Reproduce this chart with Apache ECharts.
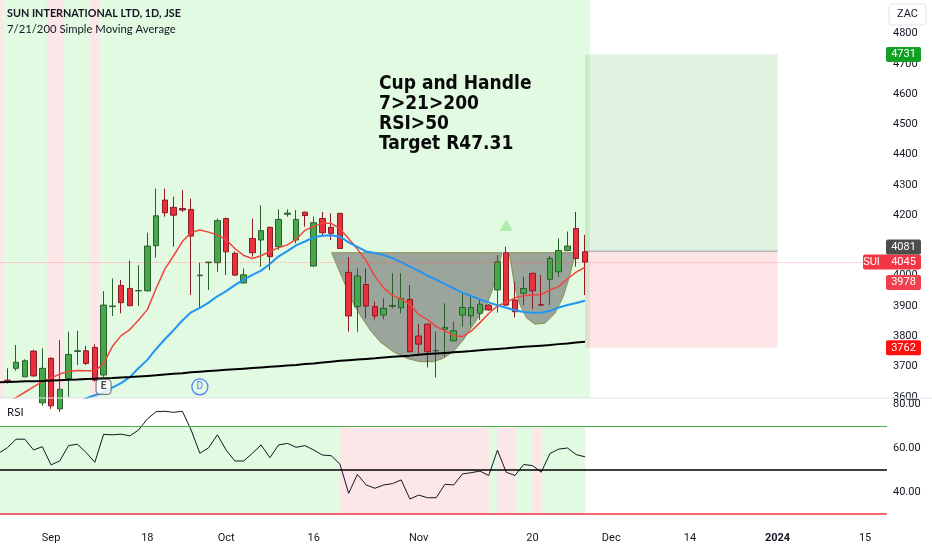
<!DOCTYPE html>
<html><head><meta charset="utf-8">
<script src="https://cdn.jsdelivr.net/npm/echarts@6/dist/echarts.min.js"></script>
<style>html,body{margin:0;padding:0;background:#fff}#c{width:932px;height:550px}</style>
</head><body><div id="c"></div>
<script>
// ---------- DATA ----------
const dates = [
 '2023-08-24','2023-08-25','2023-08-28','2023-08-29','2023-08-30','2023-08-31',
 '2023-09-01','2023-09-04','2023-09-05','2023-09-06','2023-09-07','2023-09-08',
 '2023-09-11','2023-09-12','2023-09-13','2023-09-14','2023-09-15',
 '2023-09-18','2023-09-19','2023-09-20','2023-09-21','2023-09-22',
 '2023-09-26','2023-09-27','2023-09-28','2023-09-29',
 '2023-10-02','2023-10-03','2023-10-04','2023-10-05','2023-10-06',
 '2023-10-09','2023-10-10','2023-10-11','2023-10-12','2023-10-13',
 '2023-10-16','2023-10-17','2023-10-18','2023-10-19','2023-10-20',
 '2023-10-23','2023-10-24','2023-10-25','2023-10-26','2023-10-27',
 '2023-10-30','2023-10-31','2023-11-01','2023-11-02','2023-11-03',
 '2023-11-06','2023-11-07','2023-11-08','2023-11-09','2023-11-10',
 '2023-11-13','2023-11-14','2023-11-15','2023-11-16','2023-11-17',
 '2023-11-20','2023-11-21','2023-11-22','2023-11-23','2023-11-24',
 '2023-11-27','2023-11-28','2023-11-29','2023-11-30','2023-12-01',
 '2023-12-04','2023-12-05','2023-12-06','2023-12-07','2023-12-08',
 '2023-12-11','2023-12-12','2023-12-13','2023-12-14','2023-12-15',
 '2023-12-18','2023-12-19','2023-12-20','2023-12-21','2023-12-22',
 '2023-12-27','2023-12-28','2023-12-29',
 '2024-01-01','2024-01-02','2024-01-03','2024-01-04','2024-01-05',
 '2024-01-08','2024-01-09','2024-01-10','2024-01-11','2024-01-12',
 '2024-01-15','2024-01-16','2024-01-17'
];
// [open, close, low, high]
const ohlc = [
 '-',
 [3655,3652,3644,3694],[3694,3714,3686,3771],[3666,3719,3665,3724],[3751,3669,3666,3755],
 [3580,3694,3570,3760],[3727,3570,3560,3730],[3560,3625,3550,3788],[3661,3740,3600,3815],
 [3750,3752,3705,3818],[3752,3710,3705,3768],[3763,3655,3650,3774],[3672,3903,3666,3949],
 [3898,3900,3867,3991],[3968,3911,3876,3986],[3958,3901,3899,4050],[3950,3951,3900,4035],
 [3950,4098,3948,4142],[4099,4198,4060,4288],[4250,4208,4195,4288],[4226,4200,4096,4261],
 [4222,4217,4211,4283],[4219,4131,3936,4255],[4000,4002,3894,4043],[4043,4045,3953,4046],
 [4043,4182,4013,4189],[4189,4079,4002,4192],[4074,4002,3999,4080],[3976,4003,3975,4024],
 [4123,4076,4063,4189],[4118,4149,4030,4233],[4160,4063,4019,4162],[4096,4186,4085,4219],
 [4203,4207,4195,4219],[4118,4186,4107,4217],[4210,4199,4162,4212],[4032,4175,4030,4195],
 [4189,4142,4134,4211],[4160,4140,4118,4206],[4206,4090,4088,4208],[4011,3867,3815,4061],
 [3898,3999,3815,4024],[3971,3900,3859,4024],[3898,3867,3856,3914],[3870,3892,3856,3925],
 [3899,3902,3892,4008],[3894,3925,3876,4008],[3922,3749,3747,3969],[3801,3774,3743,3840],
 [3840,3749,3697,3842],[3752,3753,3664,3815],[3823,3829,3733,3909],[3785,3818,3783,3848],
 [3870,3895,3832,3942],[3867,3895,3832,3933],[3876,3906,3854,3925],[3903,3887,3884,3906],
 [3953,4046,3878,4068],[4076,3903,3900,4096],[3920,3881,3862,3980],[3942,3958,3903,3997],
 [4008,3950,3890,4010],[3904,3903,3900,4002],[3988,4057,3903,4065],[4013,4083,3997,4123],
 [4083,4098,4081,4146],[4156,4057,4030,4211],[4079,4045,3936,4135]
];
const sma7 = [3565,3580,3597,3615,3633,3650,3662,3675,3684,3687,3686,3685,3710,3766,3802,3822,
 3854,3888,3958,4022,4066,4113,4143,4151,4144,4135,4119,4090,4067,4057,4066,4080,4093,4102,4120,
 4150,4163,4173,4173,4156,4122,4088,4050,3998,3960,3935,3923,3905,3872,3855,3832,3818,3802,3799,
 3817,3845,3875,3900,3912,3927,3934,3936,3938,3953,3964,3990,4012,4028];
const sma21 = [3465,3475,3486,3498,3510,3522,3535,3548,3562,3578,3595,3605,3615,3630,3645,3665,
 3695,3722,3758,3790,3820,3852,3879,3894,3911,3932,3949,3969,3987,4003,4017,4039,4064,4081,4100,
 4113,4127,4132,4134,4129,4110,4095,4080,4075,4068,4058,4045,4030,4016,4000,3987,3972,3958,3944,
 3933,3922,3912,3902,3894,3886,3880,3878,3878,3884,3895,3903,3910,3917];
const sma200 = [3648,3649,3650,3651,3651,3652,3654,3655,3656,3657,3659,3660,3661,3662,3664,3665,
 3667,3669,3671,3674,3676,3678,3681,3683,3685,3687,3689,3691,3693,3695,3697,3699,3701,3703,3705,
 3708,3710,3713,3716,3719,3721,3723,3725,3727,3730,3732,3734,3736,3739,3741,3743,3745,3747,3749,
 3751,3754,3756,3758,3760,3763,3765,3767,3769,3771,3774,3776,3779,3782];
const rsi = [57.6,60.1,64,64,59.1,60.6,52.3,54.2,61.1,61.7,58,53.5,66.2,66,66.3,65.5,68.2,73.2,
 76.5,76.7,76.2,76.7,68.2,57.6,60.1,66,59.1,54.1,54.1,57.6,61.4,55.6,61.4,62.1,60.3,61.1,59.1,
 56.8,56.5,52.7,39.4,48,43.2,41.7,43.2,43.8,45.5,36.8,38.6,37.4,37.4,43.5,43.2,48.2,48.8,49.5,
 47.5,59,49,47.5,52.5,52,49,57.5,59.5,60,57,56];
const pinkBgDates = ['2023-08-24','2023-09-01','2023-09-04','2023-09-08'];
const lastBarDate = '2023-11-28';
const tickDates = ['2023-09-01','2023-09-18','2023-10-02','2023-10-16','2023-11-01','2023-11-20',
 '2023-12-01','2023-12-14','2024-01-01','2024-01-15'];
const tickLabels = ['Sep','18','Oct','16','Nov','20','Dec','14','2024','15'];
const priceTicks = [3600,3700,3800,3900,4000,4100,4200,4300,4400,4500,4600,4700,4800];
const rsiTicks = [40,60,80];
const rsiLevels = [70,50,30];
// cup & handle outline: [category position, price]
const cupPoints = [[38.06,4076],[38.63,4036],[39.2,3997],[39.78,3959],[40.53,3909],[41.29,3871],
 [42.44,3821],[43.58,3782],[45.1,3749],[46.63,3727],[48.15,3716],[49.67,3716],[50.81,3727],
 [51.95,3749],[53.1,3788],[54.24,3838],[55.0,3871],[55.57,3890],[56.34,3947],[56.91,4003],
 [57.37,4058],[57.51,4076]];
const handlePoints = [[58.35,4076],[58.63,4025],[59.0,3959],[59.57,3904],[60.34,3860],[61.29,3840],
 [62.43,3843],[63.57,3876],[64.52,3931],[65.29,4003],[65.75,4058],[65.98,4076]];
const position = {from:'2023-11-28', to:'2024-01-01', entry:4081, target:4731, stop:3762};
const lastPrice = 4045;
const markers = [{date:'2023-09-11', price:3633, text:'E'}, {date:'2023-09-27', price:3633, text:'D'}];
const signalUp = {date:'2023-11-15', price:4168};
const badges = [
 {value:4731, text:'4731', color:'#12a024'},
 {value:4081, text:'4081', color:'#4d4d4d'},
 {value:4045, text:'4045', color:'#f23645', prefix:'SUI'},
 {value:3978, text:'3978', color:'#f0404f'},
 {value:3762, text:'3762', color:'#ff1010'}
];
const noteLines = ['Cup and Handle','7>21>200','RSI>50','Target R47.31'];

// ---------- CHART ----------
const GREEN_BG = '#e1fae1', PINK_BG = '#fde6e7';
const BAR = 8.753;
const gridLeft = -5.83, gridWidth = dates.length * BAR;
const lastIdx = dates.indexOf(lastBarDate);
const chart = echarts.init(document.getElementById('c'));

const bgData = dates.slice(0, lastIdx + 1).map((d, k) => [k, pinkBgDates.indexOf(d) >= 0 ? 1 : 0]);
const rsiBgData = rsi.map((v, k) => [k, v]);

function fracCoord(api, k, p) {
  const k0 = Math.floor(k), f = k - k0;
  const a = api.coord([k0, p]), b = api.coord([k0 + 1, p]);
  return [a[0] + (b[0] - a[0]) * f, a[1]];
}
const axisFont = {color:'#131722', fontSize:11, fontFamily:'Roboto'};

const option = {
  animation:false,
  grid:[
    {left:gridLeft, top:0, width:gridWidth, height:398, containLabel:false, outerBoundsMode:'none'},
    {left:gridLeft, top:398, width:gridWidth, height:127, containLabel:false, outerBoundsMode:'none'}
  ],
  xAxis:[
    {type:'category', data:dates, gridIndex:0, show:false},
    {type:'category', data:dates, gridIndex:1, axisLine:{show:false}, axisTick:{show:false},
     splitLine:{show:false},
     axisLabel:Object.assign({}, axisFont, {margin:8,
       interval:(i, v) => tickDates.indexOf(v) >= 0,
       formatter:(v) => { const t = tickLabels[tickDates.indexOf(v)]; return /^\d{4}$/.test(t) ? '{b|' + t + '}' : t; },
       rich:{b:{fontWeight:'bold', fontSize:11, color:'#131722', fontFamily:'Roboto'}}})}
  ],
  yAxis:[
    {type:'value', gridIndex:0, position:'right', min:3596, max:4911, scale:true,
     axisLine:{show:false}, axisTick:{show:false}, splitLine:{show:false},
     axisLabel:Object.assign({}, axisFont, {margin:6, customValues:priceTicks, formatter:(v) => String(v)})},
    {type:'value', gridIndex:1, position:'right', min:25, max:82.73,
     axisLine:{show:false}, axisTick:{show:false}, splitLine:{show:false},
     axisLabel:Object.assign({}, axisFont, {margin:6, customValues:rsiTicks, formatter:(v) => v.toFixed(2)})}
  ],
  series:[
    {type:'custom', name:'bg', xAxisIndex:0, yAxisIndex:0, z:0, silent:true, data:bgData,
     renderItem:(params, api) => {
       const c = api.coord([api.value(0), 4000]); const w = api.size([1, 0])[0]; const cs = params.coordSys;
       return {type:'rect', shape:{x:c[0] - w / 2, y:cs.y, width:w + 0.5, height:cs.height},
               style:{fill: api.value(1) ? PINK_BG : GREEN_BG}};
     }},
    {type:'custom', name:'position', xAxisIndex:0, yAxisIndex:0, z:1, silent:true, data:[[0, 4000]],
     renderItem:(params, api) => {
       const a = api.coord([dates.indexOf(position.from), position.target]);
       const b = api.coord([dates.indexOf(position.to), position.entry]);
       const s = api.coord([dates.indexOf(position.to), position.stop]);
       return {type:'group', children:[
         {type:'rect', shape:{x:a[0], y:a[1], width:b[0] - a[0], height:b[1] - a[1]}, style:{fill:'rgba(76,175,80,0.18)'}},
         {type:'rect', shape:{x:a[0], y:b[1], width:b[0] - a[0], height:s[1] - b[1]}, style:{fill:'rgba(242,54,69,0.13)'}},
         {type:'line', shape:{x1:a[0], y1:b[1], x2:b[0], y2:b[1]}, style:{stroke:'#a0a0a0', lineWidth:1}}
       ]};
     }},
    {type:'custom', name:'cup', xAxisIndex:0, yAxisIndex:0, z:2, silent:true, data:[[0, 4000]],
     renderItem:(params, api) => {
       const poly = (pts) => ({type:'polygon', shape:{points: pts.map(p => fracCoord(api, p[0], p[1]))},
         style:{fill:'rgba(120,122,120,0.66)', stroke:'rgba(130,130,60,0.85)', lineWidth:1}});
       return {type:'group', children:[poly(cupPoints), poly(handlePoints)]};
     }},
    {type:'candlestick', name:'SUI', xAxisIndex:0, yAxisIndex:0, z:3, data:ohlc, barWidth:6,
     itemStyle:{color:'#47a84b', color0:'#e8313f', borderColor:'#2b5e2d', borderColor0:'#8c1b24',
                borderColorDoji:'#444', borderWidth:1},
     markLine:{silent:true, symbol:'none', label:{show:false},
               lineStyle:{type:'dotted', color:'rgba(242,54,69,0.35)', width:1},
               data:[{yAxis:lastPrice}]}},
    {type:'line', name:'SMA7', xAxisIndex:0, yAxisIndex:0, z:4, data:sma7, showSymbol:false, symbol:'none',
     lineStyle:{color:'#f0453f', width:1.5}},
    {type:'line', name:'SMA21', xAxisIndex:0, yAxisIndex:0, z:4, data:sma21, showSymbol:false, symbol:'none',
     lineStyle:{color:'#2196f3', width:2}},
    {type:'line', name:'SMA200', xAxisIndex:0, yAxisIndex:0, z:4, data:sma200, showSymbol:false, symbol:'none',
     lineStyle:{color:'#000000', width:2}},
    {type:'scatter', name:'events', xAxisIndex:0, yAxisIndex:0, z:5, silent:true,
     data:markers.map(m => ({value:[m.date, m.price],
       symbol: m.text === 'D' ? 'circle' : 'roundRect', symbolSize: m.text === 'D' ? 16 : 15,
       itemStyle: m.text === 'D' ? {color:'rgba(255,255,255,0.15)', borderColor:'#2962ff', borderWidth:1.3}
                                 : {color:'#ffffff', borderColor:'#5d606b', borderWidth:1.2},
       label:{show:true, position:'inside', formatter:m.text, fontSize:10, fontFamily:'Roboto',
              fontWeight: m.text === 'E' ? 'bold' : 'normal', color: m.text === 'D' ? '#2962ff' : '#131722'}}))},
    {type:'scatter', name:'signal', xAxisIndex:0, yAxisIndex:0, z:5, silent:true,
     data:[[signalUp.date, signalUp.price]], symbol:'triangle', symbolSize:[13, 12],
     itemStyle:{color:'#a3eaa3'}},
    // RSI pane
    {type:'custom', name:'rsiBg', xAxisIndex:1, yAxisIndex:1, z:0, silent:true, data:rsiBgData,
     renderItem:(params, api) => {
       const c = api.coord([api.value(0), rsiLevels[0]]); const c2 = api.coord([api.value(0), rsiLevels[2]]);
       const w = api.size([1, 0])[0];
       return {type:'rect', shape:{x:c[0] - w, y:c[1], width:w + 0.5, height:c2[1] - c[1]},
               style:{fill: api.value(1) > rsiLevels[1] ? GREEN_BG : PINK_BG}};
     }},
    {type:'line', name:'RSI', xAxisIndex:1, yAxisIndex:1, z:4, data:rsi, showSymbol:false, symbol:'none',
     lineStyle:{color:'#131722', width:1},
     markLine:{silent:true, symbol:'none', label:{show:false}, data:[
       {yAxis:rsiLevels[0], lineStyle:{color:'#4caf50', width:1.2, type:'solid'}},
       {yAxis:rsiLevels[1], lineStyle:{color:'#000000', width:1.5, type:'solid'}},
       {yAxis:rsiLevels[2], lineStyle:{color:'#f23645', width:1.5, type:'solid'}}
     ]}}
  ]
};
chart.setOption(option);

// ---------- overlay texts and price badges ----------
const g = [];
const txt = (x, y, text, font, fill, align, z) => ({type:'text', z:z || 100, x:x, y:y,
  style:{text:text, font:font, fill:fill || '#131722', align:align || 'left', verticalAlign:'middle',
         textAlign:align || 'left', textVerticalAlign:'middle'}});
g.push({type:'line', z:90, shape:{x1:0, y1:398, x2:932, y2:398}, style:{stroke:'#e0e3eb', lineWidth:1}});
g.push(txt(7, 14, 'SUN INTERNATIONAL LTD, 1D, JSE', 'bold 10.8px Lato', '#131722'));
g.push(txt(7, 29, '7/21/200 Simple Moving Average', '11.3px Lato', '#131722'));
g.push(txt(7, 412, 'RSI', '11.5px Lato', '#131722'));
noteLines.forEach((t, i) => g.push(txt(379, 84 + i * 20, t, 'bold 19px "DejaVu Sans Condensed", "DejaVu Sans"', '#0a0a0a')));
g.push({type:'rect', z:100, shape:{x:889, y:4, width:37, height:21, r:3}, style:{fill:'#ffffff', stroke:'#e0e3eb', lineWidth:1}});
g.push(txt(907.5, 14.5, 'ZAC', '11px Roboto', '#131722', 'center', 101));

const by = badges.map(b => ({b:b, y:chart.convertToPixel({yAxisIndex:0}, b.value)}));
by.sort((p, q) => q.y - p.y);
for (let i = 1; i < by.length; i++) if (by[i - 1].y - by[i].y < 15) by[i].y = by[i - 1].y - 15;
by.forEach(o => {
  const h = 15, x0 = 886, w = 35;
  if (o.b.prefix) {
    g.push({type:'rect', z:110, shape:{x:863, y:o.y - h / 2, width:58, height:h, r:2}, style:{fill:o.b.color}});
    g.push(txt(871.5, o.y, o.b.prefix, '11px Roboto', '#ffffff', 'center', 120));
  } else {
    g.push({type:'rect', z:110, shape:{x:x0, y:o.y - h / 2, width:w, height:h, r:2}, style:{fill:o.b.color}});
  }
  g.push(txt(x0 + w / 2, o.y, o.b.text, '11px Roboto', '#ffffff', 'center', 120));
});
chart.setOption({graphic:g});
</script></body></html>
